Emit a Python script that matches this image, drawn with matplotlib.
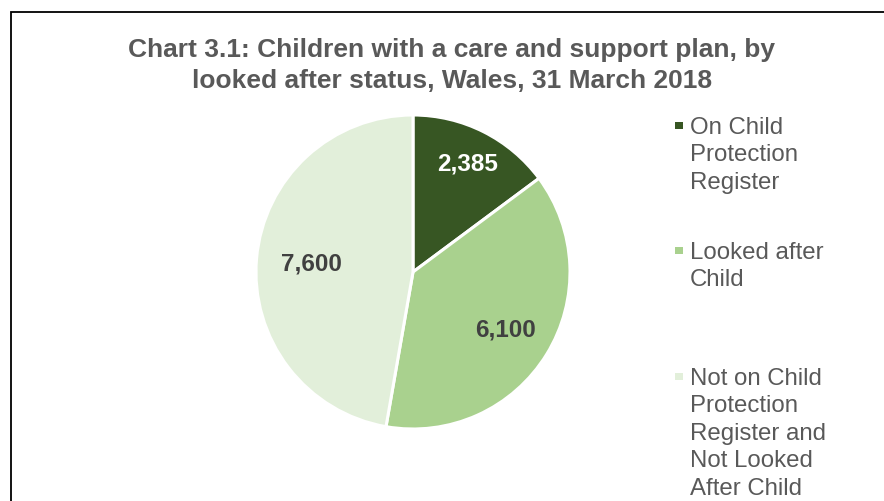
import matplotlib
matplotlib.use("Agg")
import matplotlib.pyplot as plt
from matplotlib.patches import Rectangle
import numpy as np

plt.rcParams['font.family'] = ['Liberation Sans', 'DejaVu Sans']

# Data
categories = [
    "On Child\nProtection\nRegister",
    "Looked after\nChild",
    "Not on Child\nProtection\nRegister and\nNot Looked\nAfter Child",
]
values = [2385, 6100, 7600]
value_labels = ["2,385", "6,100", "7,600"]
colors = ["#375623", "#A9D18E", "#E2EFDA"]
label_colors = ["#FFFFFF", "#404040", "#404040"]

title_lines = [
    "Chart 3.1: Children with a care and support plan, by",
    "looked after status, Wales, 31 March 2018",
]

W, H = 884, 502
fig = plt.figure(figsize=(W / 100, H / 100), dpi=100)

def fx(px):
    return px / W

def fy(py):
    return 1 - py / H

# Chart frame (extends past the right and bottom edges)
fig.patches.append(Rectangle((fx(11), fy(H + 20)), fx(W + 40) - fx(11), fy(13) - fy(H + 20),
                             transform=fig.transFigure, fill=False,
                             edgecolor="black", linewidth=1.3))

# Pie
cx, cy, r = 413, 273, 157
ax = fig.add_axes([fx(cx - r), fy(cy + r), 2 * r / W, 2 * r / H])
wedges, _ = ax.pie(values, colors=colors, startangle=90, counterclock=False,
                   radius=1.0,
                   wedgeprops=dict(edgecolor="white", linewidth=2.2))
ax.set_xlim(-1, 1)
ax.set_ylim(-1, 1)
ax.set_aspect("equal")
ax.axis("off")

# Value labels placed along each wedge's mid-angle
dists = [0.78, 0.69, 0.65]
for w, lab, col, d in zip(wedges, value_labels, label_colors, dists):
    mid = np.deg2rad((w.theta1 + w.theta2) / 2)
    ax.text(d * np.cos(mid), d * np.sin(mid), lab, ha="center", va="center",
            fontsize=17.5, fontweight="bold", color=col)

# Title, one baseline per line
for line, base in zip(title_lines, [57, 88]):
    fig.text(fx(452), fy(base), line, ha="center", va="baseline", fontsize=19,
             fontweight="bold", color="#595959")

# Legend: square key plus wrapped label, one text per line
legend_base = [134, 259, 385]
line_step = 27.5
for cat, col, y0 in zip(categories, colors, legend_base):
    fig.patches.append(Rectangle((fx(675), fy(y0 - 4)), 8 / W, 7 / H,
                                 transform=fig.transFigure, facecolor=col,
                                 edgecolor="none"))
    for i, line in enumerate(cat.split("\n")):
        fig.text(fx(690), fy(y0 + i * line_step), line, ha="left",
                 va="baseline", fontsize=17.3, color="#595959")

fig.savefig("out.png", dpi=100, facecolor="white")
